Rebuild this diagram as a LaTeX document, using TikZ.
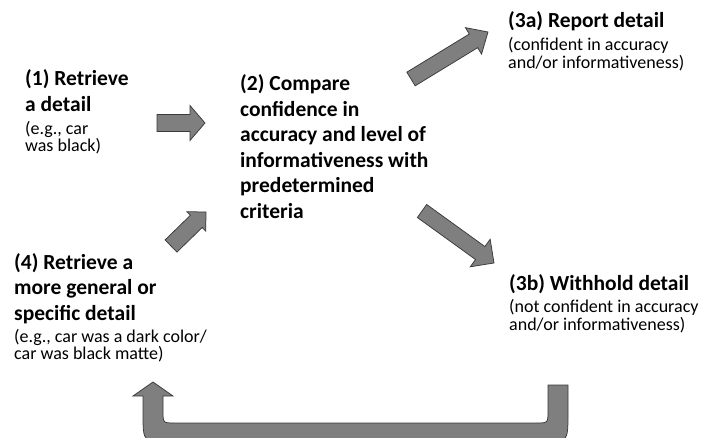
\documentclass[tikz,border=0pt]{standalone}
\usepackage{fontspec}
\setmainfont{Carlito}
\usetikzlibrary{calc}
\definecolor{arrowfill}{HTML}{7F7F7F}
\definecolor{arrowline}{HTML}{3A3A3A}
\tikzset{
  head/.style={font=\fontsize{21.5}{25.5}\selectfont\bfseries, align=left, inner sep=0pt, anchor=base west},
  desc/.style={font=\fontsize{18}{17.5}\selectfont, align=left, inner sep=0pt, anchor=base west},
  barrow/.style={fill=arrowfill, draw=arrowline, line width=0.75pt, line join=miter},
}
\newcommand\blockarrow[5]{% tail, tip, body half width, head half width, head length
  \path let \p1=($(#2)-(#1)$) in \pgfextra{%
    \pgfmathsetmacro\baang{atan2(\y1,\x1)}\global\let\baang\baang
    \pgfmathsetmacro\balen{veclen(\x1,\y1)}\global\let\balen\balen};
  \begin{scope}[shift={(#1)}, rotate=\baang]
    \draw[barrow] (0,#3) -- ({\balen-#5},#3) -- ({\balen-#5},#4) -- (\balen,0)
      -- ({\balen-#5},-#4) -- ({\balen-#5},-#3) -- (0,-#3) -- cycle;
  \end{scope}}
\begin{document}
\begin{tikzpicture}[x=1pt,y=-1pt]
\useasboundingbox (0,0) rectangle (701,438);
% texts (base anchor = baseline of the last line)
\node[head] (h1) at (25,111.5) {(1) Retrieve\\a detail};
\node[desc] (d1) at (25,152) {(e.g., car\\was black)};
\node[head] (h2) at (240,218.5) {(2) Compare\\confidence in\\accuracy and level of\\informativeness with\\predetermined\\criteria};
\node[head] (h3a) at (508,27.5) {(3a) Report detail};
\node[desc] (d3a) at (508,68.5) {(confident in accuracy\\and/or informativeness)};
\node[head] (h3b) at (509,290.5) {(3b) Withhold detail};
\node[desc] (d3b) at (509,330) {(not confident in accuracy\\and/or informativeness)};
\node[head] (h4) at (14,320) {(4) Retrieve a\\more general or\\specific detail};
\node[desc] (d4) at (14,359.5) {(e.g., car was a dark color/\\car was black matte)};
% arrow end points
\coordinate (t1) at (157,123); \coordinate (p1) at (205,123);
\coordinate (t3a) at (411,79); \coordinate (p3a) at (488,32);
\coordinate (t3b) at (422,211); \coordinate (p3b) at (494,263);
\coordinate (t4) at (171,246); \coordinate (p4) at (206,212);
\blockarrow{t1}{p1}{8.5}{17.5}{15}
\blockarrow{t3a}{p3a}{8}{15.5}{17}
\blockarrow{t3b}{p3b}{8}{17}{17}
\blockarrow{t4}{p4}{8.5}{13.5}{13.5}
% return arrow
\coordinate (rs) at (558,385);
\coordinate (rt) at (153,382);
\draw[barrow] ($(rs)+(-10,0)$) -- ($(rs)+(10,0)$) -- (568,413) .. controls (568,443) .. (538,443)
  -- (173,443) .. controls (143,443) .. (143,413) -- (143,396) -- (133,396) -- (rt)
  -- (173,396) -- (163,396) -- (163,411) .. controls (163,423) .. (175,423)
  -- (536,423) .. controls (548,423) .. (548,411) -- cycle;
\end{tikzpicture}
\end{document}
